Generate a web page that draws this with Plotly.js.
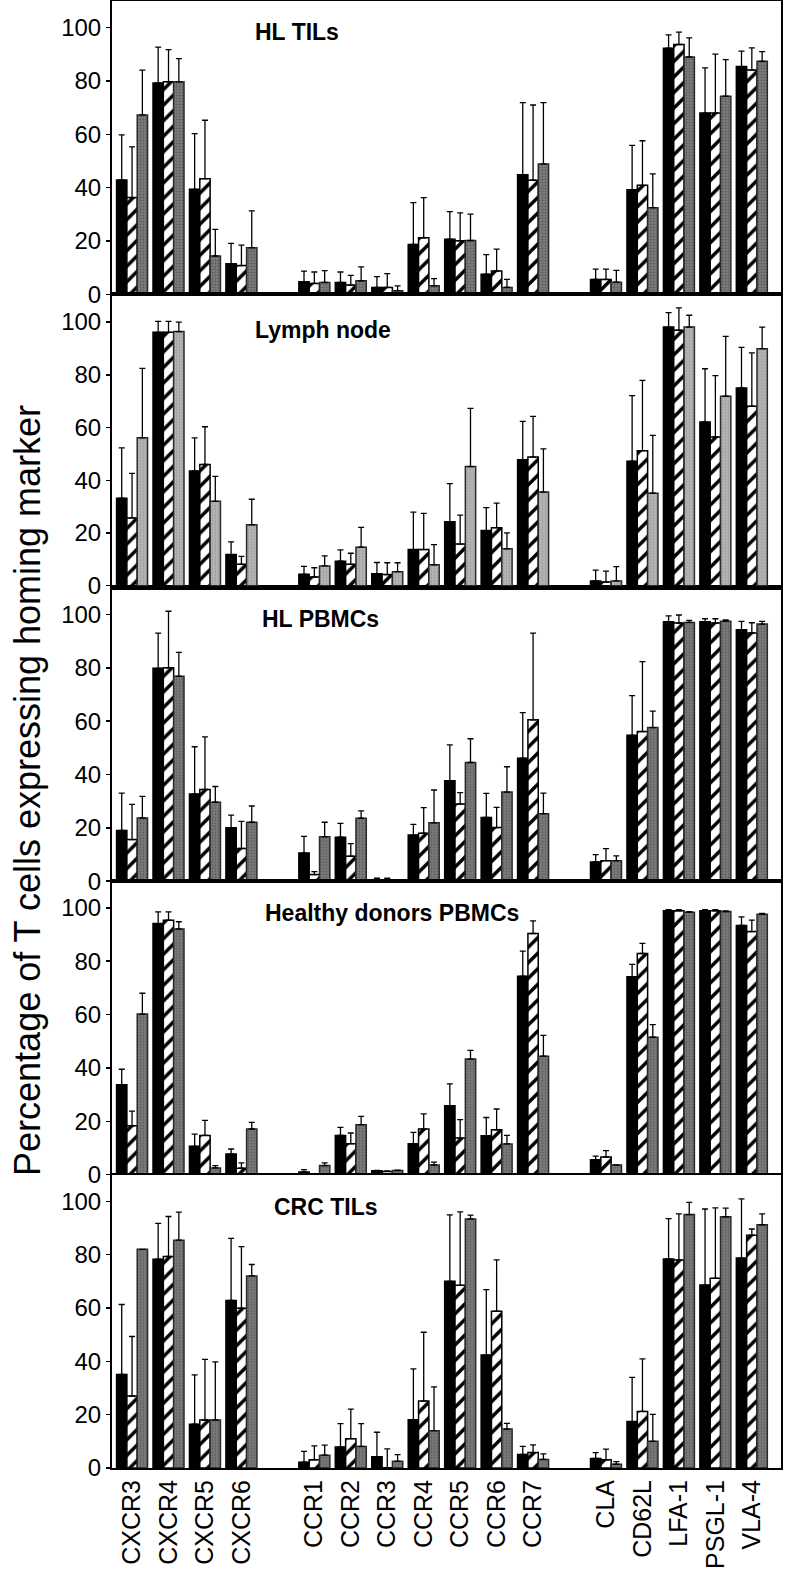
<!DOCTYPE html>
<html>
<head>
<meta charset="utf-8">
<script src="https://cdn.plot.ly/plotly-3.0.1.min.js"></script>
<style>html,body{margin:0;padding:0;background:#fff;}#chart{width:786px;height:1575px;}</style>
</head>
<body>
<div id="chart"></div>
<script>
// Markers (x categories) in three groups
const chemokineCXCR = ['CXCR3','CXCR4','CXCR5','CXCR6'];
const chemokineCCR = ['CCR1','CCR2','CCR3','CCR4','CCR5','CCR6','CCR7'];
const adhesion = ['CLA','CD62L','LFA-1','PSGL-1','VLA-4'];
const markers = chemokineCXCR.concat(chemokineCCR, adhesion);

const panelTitles = ['HL TILs','Lymph node','HL PBMCs','Healthy donors PBMCs','CRC TILs'];

// Values (%) per panel; order follows `markers`
// HL TILs
const hlTILs_black      = [42.9,79.3,39.4,11.5,4.7,4.5,2.6,18.7,20.7,7.6,44.9,5.6,39.2,92.3,68.0,85.4];
const hlTILs_blackErr   = [16.9,13.4,20.9,7.6,4.0,3.9,4.1,15.7,10.3,7.3,27.0,3.9,16.7,5.0,16.9,5.8];
const hlTILs_hatch      = [36.3,79.7,43.4,10.8,4.1,3.5,2.6,21.2,20.1,8.8,42.8,5.6,40.9,93.7,68.0,84.1];
const hlTILs_hatchErr   = [19.0,12.1,21.9,7.7,4.3,3.6,5.2,15.1,10.5,8.2,28.2,3.9,16.7,4.6,22.1,8.3];
const hlTILs_grey       = [67.3,79.7,14.4,17.5,4.5,5.1,1.4,3.2,20.2,2.6,48.9,4.6,32.5,89.0,74.3,87.4];
const hlTILs_greyErr    = [16.8,8.7,10.0,13.8,4.4,5.2,1.8,2.7,9.9,3.0,23.0,4.4,12.7,7.2,13.7,3.6];
// Lymph node
const ln_black      = [33.2,96.1,43.5,11.8,4.3,9.3,4.5,13.7,24.3,20.9,47.8,1.8,47.2,98.1,62.1,75.0];
const ln_blackErr   = [19.1,4.2,12.6,4.8,3.0,4.3,4.3,14.2,14.4,8.7,14.5,4.1,24.9,5.5,20.2,15.4];
const ln_hatch      = [25.7,96.1,46.0,8.1,3.3,8.1,4.2,13.7,15.8,22.0,48.8,1.4,51.2,96.9,56.4,68.1];
const ln_hatchErr   = [16.9,4.2,14.3,3.0,3.5,4.2,4.5,13.7,11.0,9.3,15.4,4.1,26.7,8.5,23.3,20.2];
const ln_grey       = [56.1,96.4,32.0,23.1,7.5,14.6,5.3,7.9,45.2,14.0,35.5,1.8,35.1,98.1,71.9,89.9];
const ln_greyErr    = [26.3,3.6,9.5,9.7,3.8,7.5,3.4,7.7,22.1,6.0,16.4,5.4,21.9,4.5,22.7,8.2];
// HL PBMCs
const hlPB_black    = [19.0,79.8,32.7,20.0,10.6,16.5,0.3,17.3,37.7,23.9,46.1,7.2,54.7,97.3,97.3,94.3];
const hlPB_blackErr = [14.0,13.2,17.7,4.8,6.2,5.2,0.8,4.0,13.4,9.0,17.1,2.8,14.9,2.2,1.1,3.1];
const hlPB_hatch    = [15.6,80.0,34.4,12.3,2.5,9.4,0.2,18.0,28.9,20.1,60.5,7.7,56.1,96.8,96.8,93.1];
const hlPB_hatchErr = [13.2,21.2,19.7,10.1,1.1,4.7,0.9,9.6,4.3,7.6,32.5,4.5,26.2,3.0,1.6,3.8];
const hlPB_grey     = [23.7,76.8,29.6,22.1,16.7,23.6,0.3,21.9,44.5,33.4,25.3,7.7,57.6,97.0,97.5,96.4];
const hlPB_greyErr  = [8.1,9.0,5.9,6.1,5.4,2.8,0.3,12.3,8.9,9.5,7.7,1.8,6.2,0.8,0.5,1.0];
// Healthy donors PBMCs
const hd_black      = [33.7,94.1,10.6,7.7,1.0,14.7,1.4,11.6,25.8,14.6,74.4,5.6,74.2,98.9,98.9,93.4];
const hd_blackErr   = [5.8,4.4,4.6,1.9,0.9,3.0,0.2,4.2,8.2,6.8,9.4,1.3,4.6,0.4,0.4,3.2];
const hd_hatch      = [18.3,95.4,14.7,2.4,0.2,11.6,1.2,17.1,13.7,16.8,90.4,6.6,82.9,98.9,98.9,91.1];
const hd_hatchErr   = [5.5,3.1,5.6,2.0,0,4.0,0.2,5.7,6.9,7.8,4.7,2.4,3.8,0.4,0.4,4.3];
const hd_grey       = [60.2,92.1,2.5,17.1,3.4,18.7,1.5,3.6,43.3,11.5,44.4,3.6,51.5,98.4,98.6,97.6];
const hd_greyErr    = [7.8,2.7,0.9,2.5,1.0,3.1,0.2,1.1,3.3,3.2,7.8,0,4.7,0.2,0.3,0.3];
// CRC TILs
const crc_black     = [35.1,78.3,16.4,62.8,2.2,7.9,4.2,18.1,70.0,42.4,5.1,3.6,17.4,78.4,68.6,78.7];
const crc_blackErr  = [26.2,13.4,18.5,23.3,4.0,8.7,9.2,19.1,24.9,24.5,3.0,2.2,16.6,15.1,28.5,22.2];
const crc_hatch     = [27.0,79.3,18.0,59.9,3.1,11.0,0.1,25.1,68.5,58.8,5.8,3.1,21.2,78.0,71.1,87.3];
const crc_hatchErr  = [22.3,15.0,22.7,23.1,5.2,11.1,7.1,25.8,27.5,19.2,2.9,4.0,19.7,17.3,26.4,2.3];
const crc_grey      = [82.0,85.4,18.0,72.0,4.8,8.1,2.5,14.0,93.4,14.6,3.2,1.4,10.0,95.0,94.2,91.2];
const crc_greyErr   = [0,10.5,21.8,4.3,3.8,8.5,2.5,16.4,1.4,2.1,2.1,1.0,10.1,4.6,3.2,4.1];

const panels = [
  [hlTILs_black,hlTILs_blackErr,hlTILs_hatch,hlTILs_hatchErr,hlTILs_grey,hlTILs_greyErr],
  [ln_black,ln_blackErr,ln_hatch,ln_hatchErr,ln_grey,ln_greyErr],
  [hlPB_black,hlPB_blackErr,hlPB_hatch,hlPB_hatchErr,hlPB_grey,hlPB_greyErr],
  [hd_black,hd_blackErr,hd_hatch,hd_hatchErr,hd_grey,hd_greyErr],
  [crc_black,crc_blackErr,crc_hatch,crc_hatchErr,crc_grey,crc_greyErr]
];

// axis order with blank spacer categories between marker groups
const GAP1 = ' ', GAP2 = '  ';
const axisOrder = chemokineCXCR.concat([GAP1], chemokineCCR, [GAP2], adhesion);
function onAxis(vals){ return axisOrder.map(c => { const i = markers.indexOf(c); return i < 0 ? null : vals[i]; }); }

const FONT = 'Liberation Sans, Arial, Helvetica, sans-serif';
const traces = [];
panels.forEach((p, k) => {
  const xa = 'x' + (k === 0 ? '' : k + 1), ya = 'y' + (k === 0 ? '' : k + 1);
  const greyBg = k === 1 ? '#b8b8b8' : '#7c7c7c';
  const greyFg = k === 1 ? '#9a9a9a' : '#5c5c5c';
  const err = e => ({type:'data', symmetric:false, array:onAxis(e), arrayminus:onAxis(e.map(()=>0)),
                     color:'#000', thickness:1.3, width:3});
  traces.push({type:'bar', x:axisOrder, y:onAxis(p[0]), xaxis:xa, yaxis:ya, showlegend:false,
    marker:{color:'#000', line:{color:'#000', width:1.5}}, error_y:err(p[1]), hoverinfo:'skip'});
  traces.push({type:'bar', x:axisOrder, y:onAxis(p[2]), xaxis:xa, yaxis:ya, showlegend:false,
    marker:{color:'#fff', line:{color:'#000', width:1.5},
            pattern:{shape:'/', fgcolor:'#000', bgcolor:'#fff', size:11, solidity:0.32}},
    error_y:err(p[3]), hoverinfo:'skip'});
  traces.push({type:'bar', x:axisOrder, y:onAxis(p[4]), xaxis:xa, yaxis:ya, showlegend:false,
    marker:{color:greyBg, line:{color:'#2a2a2a', width:1.5},
            pattern:{shape:'.', fgcolor:greyFg, bgcolor:greyBg, size:3, solidity:0.35}},
    error_y:err(p[5]), hoverinfo:'skip'});
});

const layout = {
  width:786, height:1575,
  margin:{l:112, r:5, t:1, b:107},
  paper_bgcolor:'#fff', plot_bgcolor:'#fff',
  barmode:'group', bargap:0.15, bargroupgap:0,
  font:{family:FONT, color:'#000'},
  annotations:[]
};
const titlePos = [[0.277,0.9789],[0.3154,0.7757],[0.3124,0.5787],[0.4185,0.3783],[0.3199,0.1779]];
for (let k = 0; k < 5; k++) {
  const sfx = k === 0 ? '' : String(k + 1);
  const top = 1 - k * 0.2, bot = top - 0.2;
  layout['xaxis' + sfx] = {
    type:'category', categoryorder:'array', categoryarray:axisOrder,
    range:[-0.55, 17.8], anchor:'y' + sfx, domain:[0,1],
    showline:true, mirror:true, linecolor:'#000', linewidth:2,
    ticks:'', showgrid:false, zeroline:false, automargin:false,
    showticklabels: k === 4, tickangle:-90, ticklabelstandoff:0,
    tickfont:{size:25, family:FONT, color:'#000'}
  };
  if (k > 0) layout['xaxis' + sfx].matches = 'x';
  layout['yaxis' + sfx] = {
    domain:[Math.max(0,bot), Math.min(1,top)], anchor:'x' + sfx,
    range: k === 1 ? [-0.8, 110.5] : [0, 110],
    tickvals:[0,20,40,60,80,100], ticktext:['0','20','40','60','80','100'],
    ticks:'outside', ticklen:4, tickwidth:1.5, tickcolor:'#000',
    showline:true, mirror:true, linecolor:'#000', linewidth:2,
    showgrid:false, zeroline: k === 1, zerolinecolor:'#000', zerolinewidth:1.5,
    automargin:false, tickfont:{size:24, family:FONT, color:'#000'}
  };
  layout.annotations.push({
    text:'<b>' + panelTitles[k] + '</b>', xref:'paper', yref:'paper',
    x:titlePos[k][0], y:titlePos[k][1], xanchor:'center', yanchor:'middle',
    showarrow:false, font:{size:23, family:FONT, color:'#000'}
  });
}
layout.annotations.push({
  text:'Percentage of T cells expressing homing marker', xref:'paper', yref:'paper',
  x:-0.126, y:0.462, xanchor:'center', yanchor:'middle', textangle:-90,
  showarrow:false, font:{size:36, family:FONT, color:'#000'}
});

Plotly.newPlot('chart', traces, layout, {displayModeBar:false, staticPlot:true});
</script>
</body>
</html>
